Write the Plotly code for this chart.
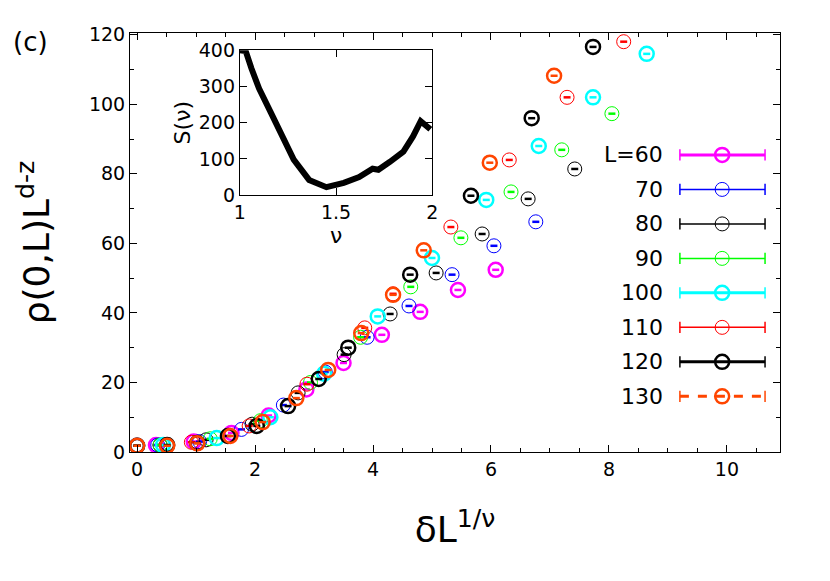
import plotly.graph_objects as go

# data collapse
sizes = ["L=60", "70", "80", "90", "100", "110", "120", "130"]
colors = ["#ff00ff", "#0000ff", "#000000", "#00ff00", "#00ffff", "#ff0000", "#000000", "#ff4500"]
widths = [2.5, 1, 1, 1, 2.5, 1, 2.5, 2.5]

x60 = [0.0, 0.32, 0.96, 1.6, 2.23, 2.87, 3.5, 4.15, 4.8, 5.44, 6.08]
y60 = [1.8, 2.0, 3.0, 5.5, 10.5, 18.0, 25.6, 33.7, 40.3, 46.6, 52.4]
x70 = [0.0, 0.35, 1.06, 1.77, 2.48, 3.19, 3.9, 4.61, 5.34, 6.05, 6.76]
y70 = [1.8, 2.0, 3.0, 6.5, 13.5, 23.0, 33.0, 42.0, 51.0, 59.3, 66.2]
x80 = [0.0, 0.39, 1.17, 1.95, 2.73, 3.51, 4.29, 5.07, 5.85, 6.63, 7.42]
y80 = [1.8, 2.0, 3.5, 8.0, 17.0, 28.0, 39.7, 51.5, 62.7, 72.8, 81.4]
x90 = [0.0, 0.39, 1.24, 2.09, 2.94, 3.79, 4.64, 5.49, 6.34, 7.2, 8.05]
y90 = [1.8, 2.0, 3.8, 9.0, 20.0, 33.0, 47.5, 61.6, 74.8, 86.9, 97.3]
x100 = [0.0, 0.44, 1.35, 2.26, 3.17, 4.08, 5.0, 5.92, 6.81, 7.73, 8.64]
y100 = [1.8, 2.0, 4.0, 10.0, 22.5, 39.0, 55.8, 72.5, 88.0, 102.0, 114.5]
x110 = [0.0, 0.92, 1.9, 2.88, 3.86, 4.34, 5.32, 6.31, 7.29, 8.25]
y110 = [1.8, 2.8, 7.5, 19.5, 35.7, 45.5, 64.7, 84.0, 102.0, 118.0]
x120 = [0.0, 0.51, 1.02, 1.54, 2.03, 2.56, 3.08, 3.58, 4.63, 5.66, 6.69, 7.73]
y120 = [1.8, 2.0, 2.6, 4.6, 7.5, 13.2, 21.0, 30.0, 51.0, 73.7, 96.0, 116.5]
x130 = [0.0, 0.51, 1.02, 1.58, 2.13, 2.7, 3.24, 3.8, 4.34, 4.86, 5.98, 7.07]
y130 = [1.8, 1.8, 2.5, 4.6, 8.6, 15.5, 23.6, 34.2, 45.2, 58.0, 83.2, 108.2]
xs = [x60, x70, x80, x90, x100, x110, x120, x130]
ys = [y60, y70, y80, y90, y100, y110, y120, y130]

# inset: S(nu)
nu = [1.0, 1.03, 1.06, 1.10, 1.16, 1.21, 1.28, 1.36, 1.45, 1.54, 1.62, 1.69, 1.72, 1.78, 1.85, 1.90, 1.94, 1.99]
S = [400, 398, 350, 294, 229, 173, 98, 42, 22, 34, 50, 73, 70, 92, 120, 162, 204, 182]

font = "DejaVu Sans"
fig = go.Figure()

for i in range(len(sizes)):
    fig.add_trace(go.Scatter(x=xs[i], y=ys[i], mode="markers", showlegend=False,
                             marker=dict(symbol="circle-open", size=14, color=colors[i],
                                         line=dict(width=widths[i], color=colors[i]))))
    fig.add_trace(go.Scatter(x=xs[i], y=ys[i], mode="markers", showlegend=False,
                             marker=dict(symbol="line-ew-open", size=5, color=colors[i],
                                         line=dict(width=2.5, color=colors[i]))))

# hand-drawn legend (text left, sample right) on an overlay axis
for i in range(len(sizes)):
    ly = 0.709 - i * 0.0823
    dash = "dash" if i == 7 else "solid"
    fig.add_trace(go.Scatter(x=[0.846, 0.977], y=[ly, ly], xaxis="x3", yaxis="y3", mode="lines",
                             showlegend=False, line=dict(color=colors[i], width=widths[i] + 0.5, dash=dash)))
    fig.add_trace(go.Scatter(x=[0.911], y=[ly], xaxis="x3", yaxis="y3", mode="markers", showlegend=False,
                             marker=dict(symbol="circle-open", size=14, color=colors[i],
                                         line=dict(width=widths[i], color=colors[i]))))
    fig.add_trace(go.Scatter(x=[0.846, 0.977], y=[ly, ly], xaxis="x3", yaxis="y3", mode="markers",
                             showlegend=False,
                             marker=dict(symbol="line-ns-open", size=8, color=colors[i],
                                         line=dict(width=1.5, color=colors[i]))))
    fig.add_annotation(x=0.823, y=ly, xref="x3", yref="y3", text=sizes[i], showarrow=False,
                       xanchor="right", font=dict(size=22, family=font, color="black"))

fig.add_trace(go.Scatter(x=nu, y=S, xaxis="x2", yaxis="y2", mode="lines", showlegend=False,
                         line=dict(color="black", width=6)))

axis_common = dict(showgrid=False, zeroline=False, showline=True, linecolor="black", linewidth=1,
                   mirror="ticks", ticks="inside", tickcolor="black", ticklen=7)
fig.update_layout(
    width=830, height=581, plot_bgcolor="white", paper_bgcolor="white",
    margin=dict(l=122, r=58, t=25, b=137),
    font=dict(family=font, color="black"),
    xaxis=dict(range=[-0.12, 10.9], dtick=2, tickfont=dict(size=19),
               minor=dict(dtick=0.5, ticks="inside", ticklen=4, tickcolor="black"),
               title=dict(text="δL<sup>1/ν</sup>", font=dict(size=36), standoff=38), **axis_common),
    yaxis=dict(range=[0, 120.5], dtick=20, tickfont=dict(size=19),
               minor=dict(dtick=10, ticks="inside", ticklen=4, tickcolor="black"),
               title=dict(text="ρ(0,L)L<sup>d-z</sup>", font=dict(size=36), standoff=28), **axis_common),
    xaxis2=dict(domain=[0.169, 0.465], anchor="y2", range=[1, 2], tickvals=[1, 1.5, 2],
                ticktext=["1", "1.5", "2"], tickfont=dict(size=19),
                title=dict(text="ν", font=dict(size=22), standoff=0), **axis_common),
    yaxis2=dict(domain=[0.613, 0.959], anchor="x2", range=[0, 400], dtick=100,
                tickfont=dict(size=19), title=dict(text="S(ν)", font=dict(size=22), standoff=2),
                **axis_common),
    xaxis3=dict(domain=[0, 1], range=[0, 1], visible=False, anchor="y3", overlaying="x"),
    yaxis3=dict(domain=[0, 1], range=[0, 1], visible=False, anchor="x3", overlaying="y"),
)
fig.add_annotation(x=-0.183, y=1.02, xref="paper", yref="paper", text="(c)", showarrow=False,
                   xanchor="left", yanchor="top", font=dict(size=26, family=font))
fig.write_html("out.html")
